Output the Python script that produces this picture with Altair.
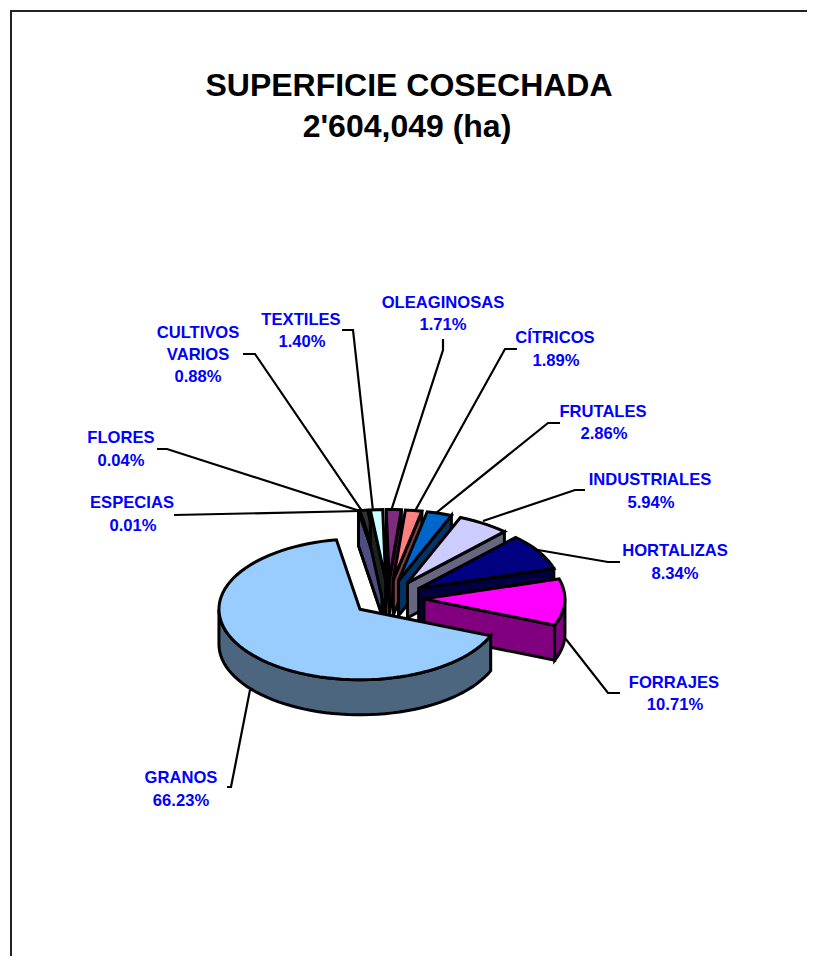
import math
import altair as alt
import pandas as pd

W, H = 799, 948
OX, OY = 8, 8   # where the plot's origin lands on the page

# slices, in clockwise order starting with GRANOS
names = ["GRANOS", "ESPECIAS", "FLORES", "CULTIVOS VARIOS", "TEXTILES", "OLEAGINOSAS",
         "CÍTRICOS", "FRUTALES", "INDUSTRIALES", "HORTALIZAS", "FORRAJES"]
values = [66.23, 0.01, 0.04, 0.88, 1.40, 1.71, 1.89, 2.86, 5.94, 8.34, 10.71]
top_colors = ["#99CCFF", "#9999FF", "#000000", "#333333", "#CCFFFF", "#802A80",
              "#FF8080", "#0066CC", "#CCCCFF", "#000080", "#FF00FF"]
wall_colors = ["#4D6680", "#4D4D80", "#000000", "#1A1A1A", "#1A2222", "#401540",
               "#804040", "#003366", "#666680", "#000040", "#800080"]
draw_order = [3, 2, 1, 4, 5, 6, 7, 8, 9, 10, 0]

# pie geometry (page pixels)
CX, CY = 388, 598
RX, RY = 141, 70.5
EXPLODE = 36
DEPTH = 35
START = 112.0
STEP = 3.0

# labels: lines of text
label_text = ["OLEAGINOSAS", "1.71%", "CÍTRICOS", "1.89%", "FRUTALES", "2.86%",
              "INDUSTRIALES", "5.94%", "HORTALIZAS", "8.34%", "FORRAJES", "10.71%",
              "GRANOS", "66.23%", "ESPECIAS", "0.01%", "FLORES", "0.04%",
              "CULTIVOS", "VARIOS", "0.88%", "TEXTILES", "1.40%"]
label_x = [443, 443, 555, 556, 603, 604, 650, 651, 675, 675, 674, 675,
           181, 181, 132, 133, 121, 121, 198, 198, 198, 301, 302]
label_y = [303, 325, 338, 361, 412, 434, 480, 503, 551, 574, 683, 705,
           778, 801, 503, 526, 438, 461, 333, 355, 377, 320, 342]

# leader lines
leaders = {
    "OLEAGINOSAS": [(443, 339), (443, 350), (391, 511)],
    "CITRICOS": [(517, 349), (505, 349), (415, 511)],
    "FRUTALES": [(560, 423), (548, 423), (436, 513)],
    "INDUSTRIALES": [(585, 490), (575, 490), (483, 521)],
    "HORTALIZAS": [(620, 562), (608, 562), (538, 550)],
    "FORRAJES": [(620, 693), (608, 693), (565, 638)],
    "GRANOS": [(227, 787), (231, 787), (250, 690)],
    "ESPECIAS": [(174, 515), (360, 511)],
    "FLORES": [(157, 449), (167, 449), (360, 511)],
    "CULTIVOS": [(243, 354), (255, 354), (362, 511)],
    "TEXTILES": [(342, 330), (353, 330), (373, 511)],
}
frame = [(815, 11), (11, 11), (11, 969)]
title_lines = ["SUPERFICIE COSECHADA", "2'604,049 (ha)"]
title_x = [409, 407]
title_y = [86, 127]


def pt(c, th, r=1.0, dz=0.0):
    a = math.radians(th)
    return (c[0] + RX * r * math.sin(a), c[1] - RY * r * math.cos(a) + dz)


def arc(c, a0, a1, dz=0.0):
    n = max(2, int(abs(a1 - a0) / STEP) + 1)
    return [pt(c, a0 + (a1 - a0) * i / (n - 1), 1.0, dz) for i in range(n)]


total = sum(values)
spans, acc = [], START
for v in values:
    spans.append((acc, acc + v / total * 360.0))
    acc = spans[-1][1]

rows = []
pid = 0


def poly(points, color):
    global pid
    for i, (x, y) in enumerate(points):
        rows.append({"pid": pid, "i": i, "x": x - OX, "y": y - OY, "col": color})
    pid += 1


for k in draw_order:
    s, e = spans[k]
    mid = math.radians((s + e) / 2)
    c = (CX + EXPLODE * math.sin(mid), CY - EXPLODE * RY / RX * math.cos(mid))
    wall = wall_colors[k]
    # cut faces
    for th, normal in ((s, s - 90), (e, e + 90)):
        if math.cos(math.radians(normal)) < 0:
            p = pt(c, th)
            poly([c, p, (p[0], p[1] + DEPTH), (c[0], c[1] + DEPTH)], wall)
    # rim
    for lo, hi in ((90, 270), (450, 630)):
        a0, a1 = max(s, lo), min(e, hi)
        if a1 > a0:
            poly(arc(c, a0, a1) + arc(c, a1, a0, DEPTH), wall)
    # top face
    poly([c] + arc(c, s, e), top_colors[k])

polys = pd.DataFrame(rows)

x_s = alt.Scale(domain=[0, W], range=[0, W], nice=False, zero=False)
y_s = alt.Scale(domain=[0, H], range=[0, H], nice=False, zero=False)
X = lambda f: alt.X(f, type="quantitative", scale=x_s, axis=None)
Y = lambda f: alt.Y(f, type="quantitative", scale=y_s, axis=None)

lead_rows = []
for name, pts in leaders.items():
    for i, (x, y) in enumerate(pts):
        lead_rows.append({"name": name, "i": i, "x": x - OX, "y": y - OY})
lead_df = pd.DataFrame(lead_rows)
frame_df = pd.DataFrame([{"i": i, "x": x - OX, "y": y - OY} for i, (x, y) in enumerate(frame)])
label_df = pd.DataFrame({"t": label_text, "x": [v - OX for v in label_x], "y": [v - OY for v in label_y]})
title_df = pd.DataFrame({"t": title_lines, "x": [v - OX for v in title_x], "y": [v - OY for v in title_y]})

frame_layer = alt.Chart(frame_df).mark_line(color="#222222", strokeWidth=2).encode(
    x=X("x"), y=Y("y"), order="i:Q")
lead_layer = alt.Chart(lead_df).mark_line(color="black", strokeWidth=2.2).encode(
    x=X("x"), y=Y("y"), detail="name:N", order="i:Q")
pie_layer = alt.Chart(polys).mark_line(stroke="black", strokeWidth=3, strokeJoin="miter", interpolate="linear-closed").encode(
    x=X("x"), y=Y("y"), detail="pid:N", order="i:Q",
    fill=alt.Fill("col:N", scale=None, legend=None))
label_layer = alt.Chart(label_df).mark_text(font="Liberation Sans", fontWeight="bold", fontSize=16.6, color="#0000FF").encode(
    x=X("x"), y=Y("y"), text="t:N")
title_layer = alt.Chart(title_df).mark_text(font="Liberation Sans", fontWeight="bold", fontSize=32, color="black").encode(
    x=X("x"), y=Y("y"), text="t:N")

chart = alt.layer(frame_layer, lead_layer, pie_layer, label_layer, title_layer).properties(
    width=W, height=H, padding=0, background="white",
    autosize=alt.AutoSizeParams(type="none")
).configure_view(stroke=None)

chart.save("out.html", embed_options={"renderer": "svg", "actions": False})
